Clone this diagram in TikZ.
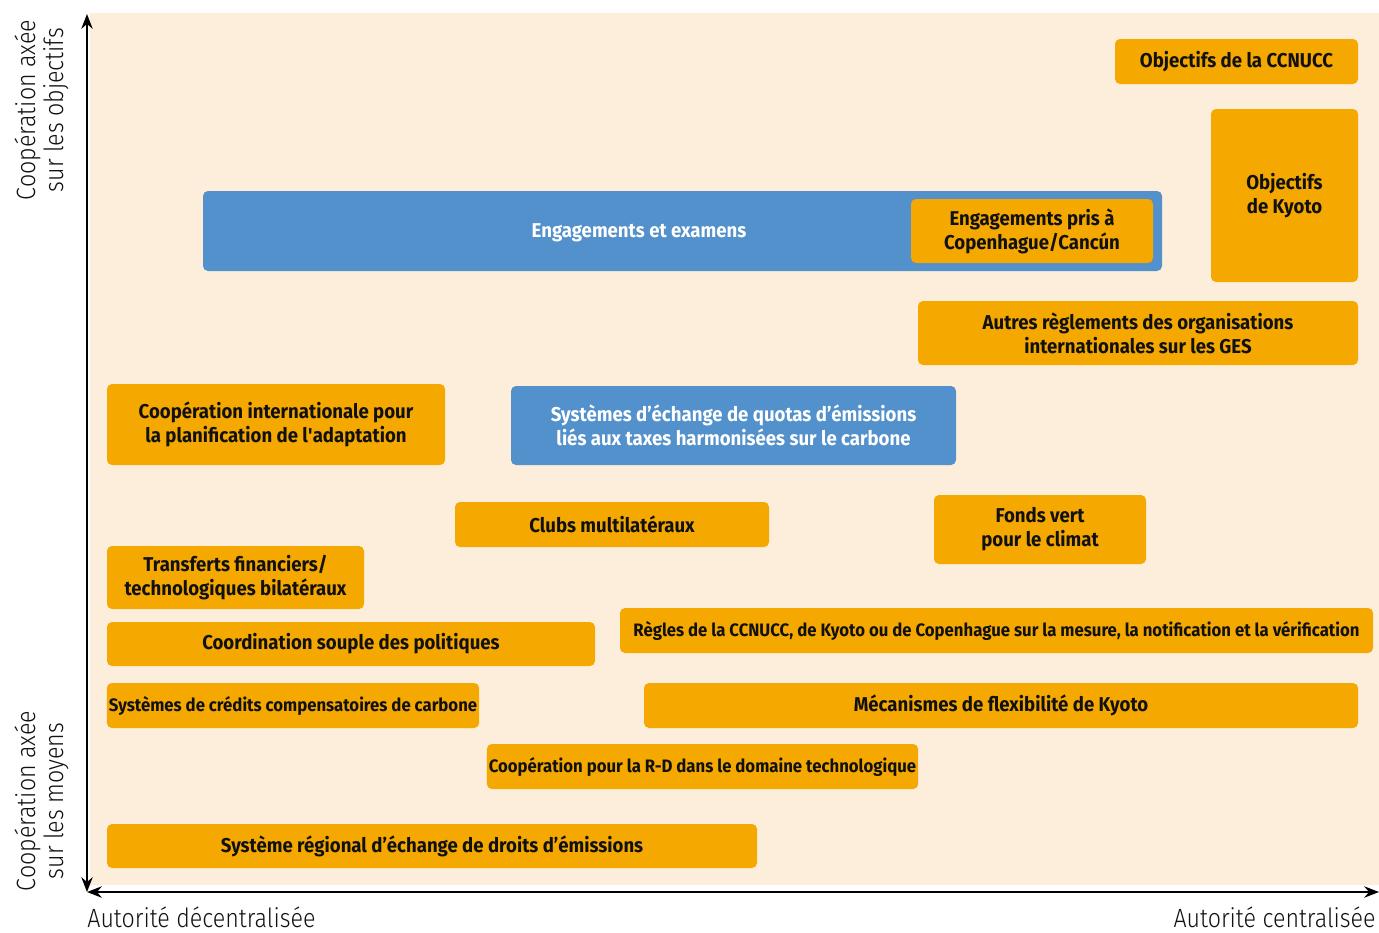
\documentclass[tikz,border=0pt]{standalone}
\usepackage{fontspec}
\setmainfont[FakeStretch=0.93]{Fira Sans}
\newfontfamily\axisfont[FakeStretch=0.88]{Fira Sans Light}
\usetikzlibrary{arrows.meta}
\definecolor{Panel}{HTML}{FCEEDA}
\definecolor{Amber}{HTML}{F5A800}
\definecolor{Steel}{HTML}{5291CB}
\definecolor{Ink}{HTML}{111111}
\tikzset{obox/.style={rectangle,rounded corners=2.5pt,fill=Amber,draw=none,align=center,text=Ink,font=\bfseries,inner sep=1pt},bbox/.style={rectangle,rounded corners=2.5pt,fill=Steel,draw=none,align=center,text=white,font=\bfseries,inner sep=1pt},smalltext/.style={font=\bfseries\fontsize{9}{10.5}\selectfont},axis/.style={draw=black,line width=1pt,{Stealth[length=2.6mm,width=2mm]}-{Stealth[length=2.6mm,width=2mm]}},axislabel/.style={text=Ink,font=\axisfont\fontsize{13.2}{14.2}\selectfont,align=center}}

\begin{document}
\begin{tikzpicture}[x=0.5pt,y=-0.5pt,font=\fontsize{11.2}{13}\selectfont]
\useasboundingbox (0,0) rectangle (1379,932);
\fill[Panel] (90,13) rectangle (1379,885);
% axes
\coordinate (O) at (87,892);
\coordinate (ytop) at (87,14);
\coordinate (xend) at (1379,892);
\draw[axis] (O) -- (ytop);
\draw[axis] (O) -- (xend);
\node[axislabel,rotate=90] (goals) at (42,110) {Coopération axée\\sur les objectifs};
\node[axislabel,rotate=90] (means) at (42,801) {Coopération axée\\sur les moyens};
\node[axislabel,anchor=base west,inner sep=0pt] (decentr) at (87,927) {Autorité décentralisée};
\node[axislabel,anchor=base east,inner sep=0pt] (centr) at (1376,927) {Autorité centralisée};
% boxes
\node[obox,minimum width=121.5pt,minimum height=22.5pt] (ccnucc) at (1236.5,61.5) {Objectifs de la CCNUCC};
\node[obox,minimum width=73.5pt,minimum height=86.5pt] (kyoto) at (1284.5,195.5) {Objectifs\\de Kyoto};
\node[bbox,minimum width=479.5pt,minimum height=40pt] (examens) at (682.5,231) {};
\node[text=white,font=\bfseries] (examenstxt) at (639,233) {Engagements et examens};
\node[obox,minimum width=121pt,minimum height=32pt] (copenhague) at (1032,231) {Engagements pris à\\Copenhague/Cancún};
\node[obox,minimum width=220pt,minimum height=32pt] (autres) at (1138,333) {Autres règlements des organisations\\internationales sur les GES};
\node[obox,minimum width=169pt,minimum height=40.5pt] (adaptation) at (276,424.5) {Coopération internationale pour\\la planification de l\textquotesingle adaptation};
\node[bbox,minimum width=222.5pt,minimum height=39.5pt] (echange) at (733.5,425.5) {Systèmes d’échange de quotas d’émissions\\liés aux taxes harmonisées sur le carbone};
\node[obox,minimum width=157pt,minimum height=22.5pt] (clubs) at (612,524.5) {Clubs multilatéraux};
\node[obox,minimum width=106pt,minimum height=34.5pt] (fonds) at (1040,529.5) {Fonds vert\\pour le climat};
\node[obox,minimum width=128.5pt,minimum height=31.5pt] (transferts) at (235.5,577.5) {Transferts financiers/\\technologiques bilatéraux};
\node[obox,minimum width=244pt,minimum height=22pt] (souple) at (351,644) {Coordination souple des politiques};
\node[obox,smalltext,minimum width=376.5pt,minimum height=22.5pt] (regles) at (996.5,630.5) {Règles de la CCNUCC, de Kyoto ou de Copenhague sur la mesure, la notification et la vérification};
\node[obox,smalltext,minimum width=186pt,minimum height=22.5pt] (credits) at (293,705.5) {Systèmes de crédits compensatoires de carbone};
\node[obox,minimum width=357pt,minimum height=22.5pt] (flexibilite) at (1001,705.5) {Mécanismes de flexibilité de Kyoto};
\node[obox,smalltext,minimum width=213.5pt,minimum height=22.5pt] (rd) at (702.5,766.5) {Coopération pour la R-D dans le domaine technologique};
\node[obox,minimum width=325pt,minimum height=22pt] (regional) at (432,846) {Système régional d’échange de droits d’émissions};
\end{tikzpicture}
\end{document}
